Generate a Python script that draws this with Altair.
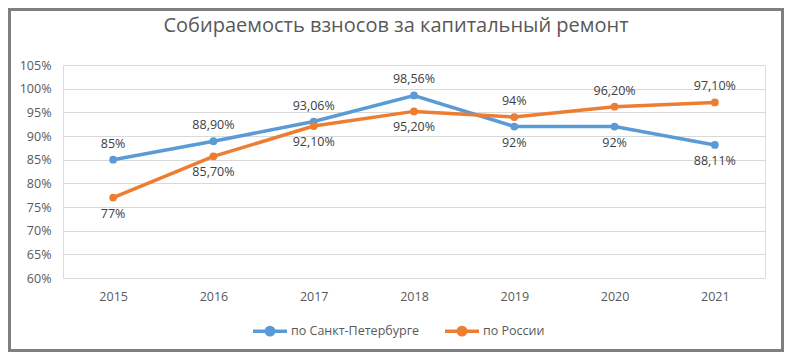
import altair as alt
import pandas as pd

years = ["2015", "2016", "2017", "2018", "2019", "2020", "2021"]
spb_values = [85, 88.90, 93.06, 98.56, 92, 92, 88.11]
spb_labels = ["85%", "88,90%", "93,06%", "98,56%", "92%", "92%", "88,11%"]
spb_pos = ["above", "above", "above", "above", "below", "below", "below"]
rus_values = [77, 85.70, 92.10, 95.20, 94, 96.20, 97.10]
rus_labels = ["77%", "85,70%", "92,10%", "95,20%", "94%", "96,20%", "97,10%"]
rus_pos = ["below", "below", "below", "below", "above", "above", "above"]
series = ["по Санкт-Петербурге", "по России"]
colors = ["#5b9bd5", "#ed7d31"]
y_ticks = [60, 65, 70, 75, 80, 85, 90, 95, 100, 105]
title_text = "Собираемость взносов за капитальный ремонт"

rows = []
for name, vals, labs, pos in [(series[0], spb_values, spb_labels, spb_pos),
                              (series[1], rus_values, rus_labels, rus_pos)]:
    for y, v, l, p in zip(years, vals, labs, pos):
        rows.append({"series": name, "year": y, "value": v, "label": l, "pos": p})
df = pd.DataFrame(rows)

W, H = 702, 213
PL, PT, PR, PB = 55, 57, 19, 74

x = alt.X("year:O", sort=years, title=None,
          scale=alt.Scale(type="point", padding=0.5),
          axis=alt.Axis(labelAngle=0, domain=False, ticks=False, grid=False,
                        labelPadding=12, labelFontSize=12.5, labelColor="#595959",
                        labelFont="Open Sans"))
y = alt.Y("value:Q", title=None,
          scale=alt.Scale(domain=[60, 105], nice=False, zero=False),
          axis=alt.Axis(values=y_ticks, labelExpr="datum.value + '%'", domain=False,
                        ticks=False, gridColor="#d9d9d9", gridWidth=1,
                        labelPadding=12, labelFontSize=12.5, labelColor="#595959",
                        labelFont="Open Sans"))

legend_path = ("M-1,0H1M-0.22,0A0.22,0.22,0,1,0,0.22,0"
               "A0.22,0.22,0,1,0,-0.22,0Z")
color = alt.Color("series:N", sort=series,
                  scale=alt.Scale(domain=series, range=colors),
                  legend=alt.Legend(title=None, orient="none", direction="horizontal",
                                    legendX=188, legendY=247,
                                    symbolType=legend_path, symbolSize=1156,
                                    symbolStrokeWidth=3.5, symbolOpacity=1,
                                    labelFontSize=12.5, labelColor="#595959",
                                    labelFont="Open Sans", labelOffset=2,
                                    columnPadding=18))
color_nolegend = alt.Color("series:N", sort=series,
                           scale=alt.Scale(domain=series, range=colors), legend=None)

base = alt.Chart(df)
line = base.mark_line(strokeWidth=3.5).encode(x=x, y=y, color=color)
pts = base.mark_circle(size=60, opacity=1).encode(x=x, y=y, color=color_nolegend)
txt_up = base.transform_filter(alt.datum.pos == "above").mark_text(
    dy=-16, fontSize=12.5, color="#404040", font="Open Sans").encode(x=x, y=y, text="label:N")
txt_dn = base.transform_filter(alt.datum.pos == "below").mark_text(
    dy=16, fontSize=12.5, color="#404040", font="Open Sans").encode(x=x, y=y, text="label:N")

one = pd.DataFrame({"t": [title_text]})
frame = alt.Chart(one).mark_rect(
    fill=None, stroke="#7f7f7f", strokeWidth=3).encode(
    x=alt.value(-PL + 1.5), x2=alt.value(W + PR - 1.5),
    y=alt.value(-PT + 1.5), y2=alt.value(H + PB - 1.5))
title = alt.Chart(one).mark_text(
    fontSize=20, font="Open Sans", color="#595959", baseline="alphabetic",
    align="center").encode(x=alt.value(W / 2 - 18), y=alt.value(-33), text="t:N")

chart = alt.layer(line, pts, txt_up, txt_dn, frame, title).properties(
    width=W, height=H,
    autosize=alt.AutoSizeParams(type="none"),
    padding={"left": PL, "top": PT, "right": PR, "bottom": PB},
).configure_view(stroke=None).configure(background="white")

chart.save("out.html", embed_options={"renderer": "svg", "actions": False})
